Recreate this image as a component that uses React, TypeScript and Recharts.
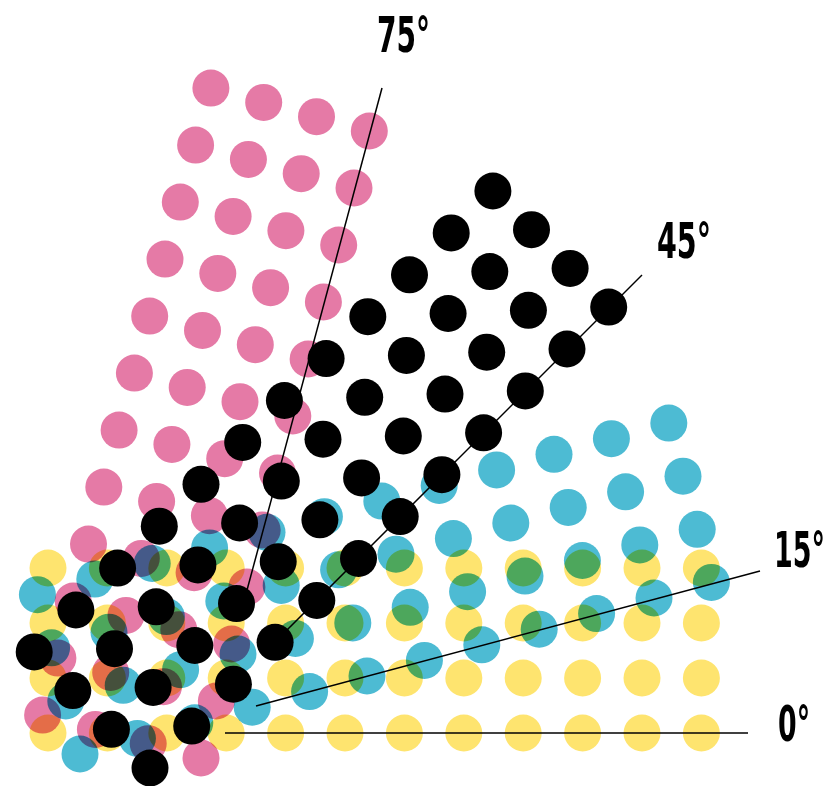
import { Scatter, ScatterChart, XAxis, YAxis } from "recharts"

// screens: 0° yellow, 15° cyan, 45° black, 75° magenta
const screenLabels = ["0°", "15°", "45°", "75°"]
const screenColors = ["#FEE46F", "#4DBBD3", "#000000", "#E57AA6"]

// first dot of each screen and the two grid steps
const originX = [48, 80, 150, 201]
const originY = [733, 754, 768, 758]
const colStepX = [59.4, 57.4, 41.7, 15.3]
const colStepY = [0, -15.6, -41.9, -57.0]
const rowStepX = [0, -14.2, -38.6, -52.8]
const rowStepY = [-55, -53.1, -38.7, -14.3]

const colIndex = [0, 1, 2, 3, 4, 5, 6, 7, 8, 9, 10, 11]
const rowIndex = [0, 1, 2, 3]

// angle guide lines and their labels (labels anchored at their right end)
const lineStartX = [225, 256, 275, 243]
const lineStartY = [733, 706, 642, 605]
const lineEndX = [748, 760, 642, 382]
const lineEndY = [733, 571, 275, 88]
const labelRight = [810, 825, 711, 430]
const labelY = [741, 567, 258, 52]
const labelWidth = [32, 51, 54, 53]

const drawOrder = [0, 1, 3, 2]

const W = 833
const H = 786
const SQUEEZE = 0.6

function dotsFor(s: number) {
  const pts: { x: number; y: number }[] = []
  rowIndex.forEach((r) => {
    colIndex.forEach((c) => {
      pts.push({
        x: originX[s] + c * colStepX[s] + r * rowStepX[s],
        y: originY[s] + c * colStepY[s] + r * rowStepY[s],
      })
    })
  })
  return pts
}

const labelData = screenLabels.map((text, i) => ({ x: labelRight[i], y: labelY[i], text, w: labelWidth[i] }))

export default function App() {
  return (
    <div style={{ position: "absolute", left: 0, top: 0, background: "#fff" }}>
      <ScatterChart width={W} height={H} margin={{ top: 0, right: 0, bottom: 0, left: 0 }}>
        <XAxis type="number" dataKey="x" domain={[0, W]} hide />
        <YAxis type="number" dataKey="y" domain={[0, H]} reversed hide />
        {drawOrder.map((s) => (
          <Scatter
            key={`screen-${s}`}
            data={dotsFor(s)}
            isAnimationActive={false}
            shape={(p: any) => (
              <circle cx={p.cx} cy={p.cy} r={18.5} fill={screenColors[s]} style={{ mixBlendMode: "multiply" }} />
            )}
          />
        ))}
        {screenLabels.map((_, i) => (
          <Scatter
            key={`line-${i}`}
            data={[
              { x: lineStartX[i], y: lineStartY[i] },
              { x: lineEndX[i], y: lineEndY[i] },
            ]}
            isAnimationActive={false}
            line={{ stroke: "#000", strokeWidth: 1.5 }}
            shape={() => <g />}
          />
        ))}
        <Scatter
          data={labelData}
          isAnimationActive={false}
          shape={(p: any) => (
            <text
              x={0}
              y={0}
              transform={`translate(${p.cx},${p.cy}) scale(${SQUEEZE},1)`}
              textAnchor="end"
              fontSize={50}
              fontWeight="bold"
              fontFamily="'DejaVu Sans Condensed', 'Liberation Sans Narrow', 'DejaVu Sans', sans-serif"
              textLength={p.payload.w / SQUEEZE}
              lengthAdjust="spacingAndGlyphs"
              fill="#000"
            >
              {p.payload.text}
            </text>
          )}
        />
      </ScatterChart>
    </div>
  )
}
